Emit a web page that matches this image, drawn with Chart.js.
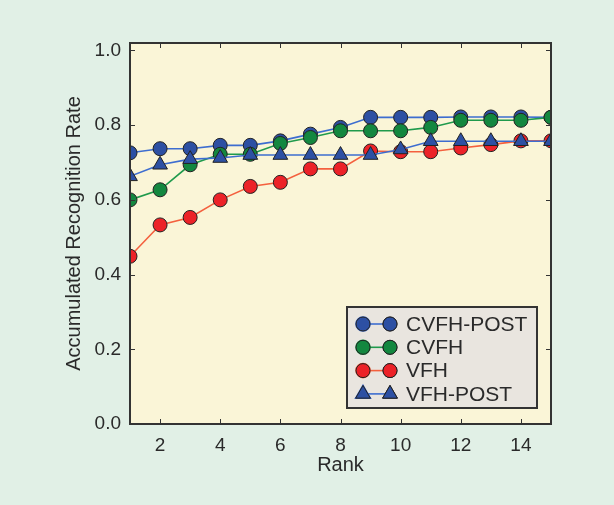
<!DOCTYPE html>
<html>
<head>
    <title>Accumulated Recognition Rate</title>
    <style>
        body { margin: 0; background: #e1f0e6; }
        canvas { display: block; }
    </style>
</head>
<body>
    <canvas id="chartId" width="614" height="505"></canvas>

    <script src="https://cdn.jsdelivr.net/npm/chart.js@4.4.0/dist/chart.umd.min.js"></script>

    <script>
        // ranks 1..15
        var ranks = [1, 2, 3, 4, 5, 6, 7, 8, 9, 10, 11, 12, 13, 14, 15];
        var cvfhPost = [0.726, 0.737, 0.737, 0.746, 0.746, 0.758, 0.776, 0.794, 0.821, 0.821, 0.821, 0.822, 0.822, 0.822, 0.821];
        var cvfh     = [0.600, 0.627, 0.694, 0.722, 0.722, 0.751, 0.767, 0.785, 0.785, 0.785, 0.794, 0.813, 0.813, 0.813, 0.821];
        var vfh      = [0.449, 0.533, 0.553, 0.600, 0.636, 0.647, 0.683, 0.683, 0.731, 0.729, 0.729, 0.739, 0.748, 0.758, 0.758];
        var vfhPost  = [0.663, 0.694, 0.709, 0.712, 0.720, 0.720, 0.720, 0.720, 0.720, 0.735, 0.757, 0.757, 0.757, 0.757, 0.757];
        var xTicks = [2, 4, 6, 8, 10, 12, 14];
        var yTicks = [0, 0.2, 0.4, 0.6, 0.8, 1.0];

        var FONT = '"Liberation Sans", Arial, Helvetica, sans-serif';
        var INK = '#2a2a2a';

        function series(label, values, line, fill, shape, radius, order) {
            return {
                label: label,
                data: values.map(function (v, i) { return { x: ranks[i], y: v }; }),
                borderColor: line,
                borderWidth: 1.6,
                pointBackgroundColor: fill,
                pointBorderColor: '#222',
                pointBorderWidth: 1,
                pointStyle: shape,
                pointRadius: radius,
                order: order,
                clip: 0,
                tension: 0
            };
        }

        var datasets = [
            series('CVFH-POST', cvfhPost, '#3d6dd0', '#2d50a3', 'circle', 7, 4),
            series('CVFH', cvfh, '#1f9a4c', '#13873f', 'circle', 7, 3),
            series('VFH', vfh, '#f4603e', '#ec2228', 'circle', 7, 2),
            series('VFH-POST', vfhPost, '#3d6dd0', '#2d50a3', 'triangle', 8.5, 1)
        ];

        // yellow plot background
        var plotBg = {
            id: 'plotBg',
            beforeDraw: function (chart) {
                var a = chart.chartArea, c = chart.ctx;
                c.save();
                c.fillStyle = '#faf5d7';
                c.fillRect(a.left, a.top, a.right - a.left, a.bottom - a.top);
                c.restore();
            }
        };

        // frame with inward ticks on all four sides
        var frame = {
            id: 'frame',
            afterDatasetsDraw: function (chart) {
                var a = chart.chartArea, c = chart.ctx;
                var xs = chart.scales.x, ys = chart.scales.y;
                c.save();
                c.strokeStyle = '#333';
                c.lineWidth = 1;
                c.beginPath();
                xTicks.forEach(function (v) {
                    var px = Math.round(xs.getPixelForValue(v)) + 0.5;
                    c.moveTo(px, a.bottom); c.lineTo(px, a.bottom - 5);
                    c.moveTo(px, a.top); c.lineTo(px, a.top + 5);
                });
                yTicks.forEach(function (v) {
                    var py = Math.round(ys.getPixelForValue(v)) + 0.5;
                    c.moveTo(a.left, py); c.lineTo(a.left + 5, py);
                    c.moveTo(a.right, py); c.lineTo(a.right - 5, py);
                });
                c.stroke();
                c.lineWidth = 2;
                c.strokeRect(a.left, a.top, a.right - a.left, a.bottom - a.top);
                c.restore();
            }
        };

        // legend box in the lower right of the plot
        var legendBox = {
            id: 'legendBox',
            afterDraw: function (chart) {
                var c = chart.ctx;
                var bx = 347, by = 307, bw = 190, bh = 101;
                c.save();
                c.fillStyle = '#e9e5df';
                c.fillRect(bx, by, bw, bh);
                c.strokeStyle = '#333';
                c.lineWidth = 2;
                c.strokeRect(bx, by, bw, bh);
                c.font = '21px ' + FONT;
                c.textBaseline = 'middle';
                datasets.forEach(function (ds, i) {
                    var y = 324 + i * 23.3;
                    c.strokeStyle = ds.borderColor;
                    c.lineWidth = 1.6;
                    c.beginPath();
                    c.moveTo(363, y); c.lineTo(390, y);
                    c.stroke();
                    [363, 390].forEach(function (x) {
                        Chart.helpers.drawPoint(c, {
                            pointStyle: ds.pointStyle,
                            radius: ds.pointRadius,
                            borderWidth: 1,
                            rotation: 0
                        }, x, y);
                        c.fillStyle = ds.pointBackgroundColor;
                        c.strokeStyle = '#222';
                        c.lineWidth = 1;
                        c.fill();
                        c.stroke();
                    });
                    c.fillStyle = INK;
                    c.fillText(ds.label, 406, y + 1);
                });
                c.restore();
            }
        };

        var chrt = document.getElementById('chartId').getContext('2d');
        var chartId = new Chart(chrt, {
            type: 'line',
            data: { datasets: datasets },
            plugins: [plotBg, frame, legendBox],
            options: {
                responsive: false,
                animation: false,
                layout: { padding: { left: 0, top: 43, right: 63, bottom: 0 } },
                scales: {
                    x: {
                        type: 'linear',
                        min: 1,
                        max: 15,
                        afterBuildTicks: function (s) { s.ticks = xTicks.map(function (v) { return { value: v }; }); },
                        afterFit: function (s) { s.height = 81; },
                        grid: { display: false, drawTicks: false },
                        border: { display: false },
                        ticks: { color: INK, font: { family: FONT, size: 19 }, padding: 10, maxRotation: 0 },
                        title: { display: true, text: 'Rank', color: INK, font: { family: FONT, size: 20 }, padding: { top: 0, bottom: 28 } }
                    },
                    y: {
                        min: 0,
                        max: 1.02,
                        afterBuildTicks: function (s) { s.ticks = yTicks.map(function (v) { return { value: v }; }); },
                        afterFit: function (s) { s.width = 130; },
                        grid: { display: false, drawTicks: false },
                        border: { display: false },
                        ticks: {
                            color: INK, font: { family: FONT, size: 19 }, padding: 9,
                            callback: function (v) { return v.toFixed(1); }
                        },
                        title: { display: true, text: 'Accumulated Recognition Rate', color: INK, font: { family: FONT, size: 20 }, padding: { top: 62, bottom: 0 } }
                    }
                },
                plugins: {
                    legend: { display: false },
                    tooltip: { enabled: false }
                }
            }
        });
    </script>
</body>
</html>
